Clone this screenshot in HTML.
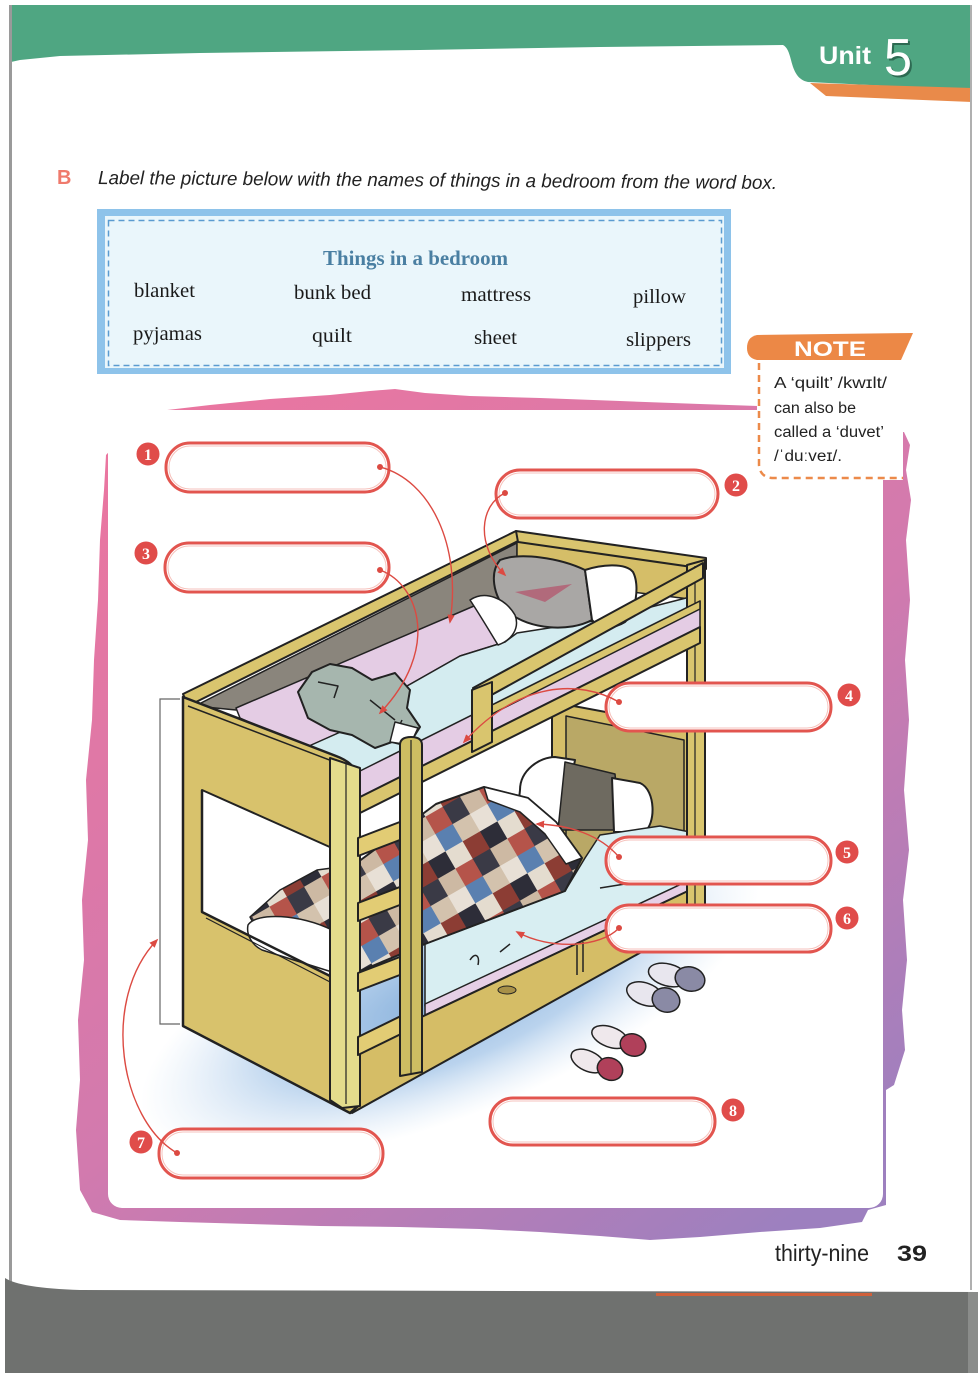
<!DOCTYPE html>
<html><head><meta charset="utf-8">
<style>
html,body{margin:0;padding:0;background:#fff;}
svg{display:block;}
</style></head>
<body>
<svg width="978" height="1381" viewBox="0 0 978 1381" xmlns="http://www.w3.org/2000/svg">
<defs>
 <linearGradient id="frameG" gradientUnits="userSpaceOnUse" x1="150" y1="420" x2="760" y2="1240">
  <stop offset="0" stop-color="#ea76a0"/>
  <stop offset="0.55" stop-color="#d27aae"/>
  <stop offset="1" stop-color="#9d80bf"/>
 </linearGradient>
 <radialGradient id="shadowG">
  <stop offset="0" stop-color="#7fabd9" stop-opacity="0.95"/>
  <stop offset="0.55" stop-color="#9cc0e6" stop-opacity="0.7"/>
  <stop offset="1" stop-color="#c8ddf2" stop-opacity="0"/>
 </radialGradient>
 <pattern id="patch" width="60" height="60" patternUnits="userSpaceOnUse" patternTransform="rotate(-30)">
  <rect x="0" y="0" width="20" height="20" fill="#2d2d38"/>
  <rect x="20" y="0" width="20" height="20" fill="#e4dccf"/>
  <rect x="40" y="0" width="20" height="20" fill="#8c3d34"/>
  <rect x="0" y="20" width="20" height="20" fill="#cdb9a3"/>
  <rect x="20" y="20" width="20" height="20" fill="#b5544a"/>
  <rect x="40" y="20" width="20" height="20" fill="#3a3a46"/>
  <rect x="0" y="40" width="20" height="20" fill="#e8e0d6"/>
  <rect x="20" y="40" width="20" height="20" fill="#5a80b0"/>
  <rect x="40" y="40" width="20" height="20" fill="#d3c2ad"/>
 </pattern>
 <marker id="ah" viewBox="0 0 10 10" refX="8" refY="5" markerWidth="9" markerHeight="9" markerUnits="userSpaceOnUse" orient="auto"><path d="M0,1 L10,5 L0,9 Z" fill="#dc4a42"/></marker>
</defs>

<rect x="0" y="0" width="978" height="1381" fill="#fff"/>

<!-- header -->
<path d="M11,5 L972,5 L972,90 L808,82 C798,80 794,72 791,60 C789,52 787,47 783,45 L600,47 L420,50 L200,53 L60,56 L20,60 L11,62 Z" fill="#4fa682"/>
<path d="M810,83 L972,88 L972,102 L826,96 Z" fill="#e98a4a"/>
<rect x="9" y="5" width="3" height="1285" fill="#9a9a9a"/>
<rect x="970" y="5" width="2" height="1285" fill="#b0b0b0"/>
<text x="819" y="64" font-family="Liberation Sans, sans-serif" font-weight="bold" font-size="25" fill="#fff" textLength="52" lengthAdjust="spacingAndGlyphs">Unit</text>
<text x="886" y="77" font-family="Liberation Sans, sans-serif" font-size="52" fill="#2d6a52" textLength="28" lengthAdjust="spacingAndGlyphs">5</text>
<text x="884" y="75" font-family="Liberation Sans, sans-serif" font-size="52" fill="#fff" textLength="28" lengthAdjust="spacingAndGlyphs">5</text>

<!-- instruction -->
<text x="57" y="184" font-family="Liberation Sans, sans-serif" font-weight="bold" font-size="20" fill="#ef7a6c">B</text>
<text x="98" y="184" transform="rotate(0.42 98 184)" font-family="Liberation Sans, sans-serif" font-style="italic" font-size="19" fill="#222" textLength="679" lengthAdjust="spacingAndGlyphs">Label the picture below with the names of  things in a bedroom from the word box.</text>

<!-- word box -->
<rect x="97" y="209" width="634" height="165" fill="#8ec3ea"/>
<rect x="105" y="216" width="619" height="152" fill="#eaf6fb"/>
<rect x="108.5" y="220.5" width="613" height="145" fill="none" stroke="#5b9bd0" stroke-width="1.5" stroke-dasharray="6 4"/>
<text x="323" y="265" font-family="Liberation Serif, serif" font-weight="bold" font-size="21" fill="#4a7fa2" textLength="185" lengthAdjust="spacingAndGlyphs">Things in a bedroom</text>
<g font-family="Liberation Serif, serif" font-size="20" fill="#1a1a1a">
 <text x="134" y="297" textLength="61" lengthAdjust="spacingAndGlyphs">blanket</text>
 <text x="294" y="299" textLength="77" lengthAdjust="spacingAndGlyphs">bunk bed</text>
 <text x="461" y="301" textLength="70" lengthAdjust="spacingAndGlyphs">mattress</text>
 <text x="633" y="303" textLength="53" lengthAdjust="spacingAndGlyphs">pillow</text>
 <text x="133" y="340" textLength="69" lengthAdjust="spacingAndGlyphs">pyjamas</text>
 <text x="312" y="342" textLength="40" lengthAdjust="spacingAndGlyphs">quilt</text>
 <text x="474" y="344" textLength="43" lengthAdjust="spacingAndGlyphs">sheet</text>
 <text x="626" y="346" textLength="65" lengthAdjust="spacingAndGlyphs">slippers</text>
</g>

<!-- picture frame -->
<polygon fill="url(#frameG)" points="150,412 210,405 270,399 330,395 370,391 395,389 425,393 470,396 540,398 620,401 700,404 758,406 760,420 886,420 886,433 904,432 910,445 906,470 911,500 906,540 910,600 905,660 909,720 904,790 909,850 903,900 907,960 902,1010 905,1050 894,1085 886,1090 886,1205 868,1210 862,1222 820,1228 760,1232 700,1237 650,1240 600,1236 540,1232 480,1229 400,1227 320,1226 250,1224 180,1222 120,1220 92,1212 80,1190 76,1130 80,1080 78,1020 84,960 82,900 88,840 86,780 92,720 94,660 98,600 100,540 104,490 106,455 120,440 150,430"/>
<rect x="108" y="410" width="775" height="798" rx="14" fill="#fff"/>

<!-- note -->
<rect x="757" y="360" width="146" height="120" fill="#fff"/>
<path d="M757,335 L913,333 L901,360 L757,360 Q747,358 747,348 Q747,337 757,335 Z" fill="#ec8846"/>
<text x="794" y="356" font-family="Liberation Sans, sans-serif" font-weight="bold" font-size="21" fill="#fff" textLength="72" lengthAdjust="spacingAndGlyphs">NOTE</text>
<path d="M759,363 L759,465 Q760,477 772,478 L903,478" fill="none" stroke="#ec8a4a" stroke-width="2.5" stroke-dasharray="7 5"/>
<g font-family="Liberation Sans, sans-serif" font-size="15.5" fill="#222">
 <text x="774" y="388" textLength="113" lengthAdjust="spacingAndGlyphs">A ‘quilt’ /kwɪlt/</text>
 <text x="774" y="413" textLength="82" lengthAdjust="spacingAndGlyphs">can also be</text>
 <text x="774" y="437" textLength="110" lengthAdjust="spacingAndGlyphs">called a ‘duvet’</text>
 <text x="774" y="461" textLength="68" lengthAdjust="spacingAndGlyphs">/ˈduːveɪ/.</text>
</g>

<!-- floor shadow -->
<ellipse cx="450" cy="995" rx="330" ry="120" transform="rotate(-22 450 995)" fill="url(#shadowG)"/>

<!-- bracket -->
<path d="M180,699 L160,699 L160,1024 L180,1024" fill="none" stroke="#666" stroke-width="1.2"/>

<g stroke="#222" stroke-linejoin="round">
 <!-- far end lower panel -->
 <polygon points="552,702 692,728 692,905 552,880" fill="#d5be68" stroke-width="2"/>
 <polygon points="566,716 684,740 684,900 566,876" fill="#b9a866" stroke-width="1.5"/>
 <!-- bottom pillow -->
 <path d="M520,790 C520,770 540,757 555,757 L575,760 L562,830 L530,830 C520,820 518,805 520,790 Z" fill="#fff" stroke-width="2"/>
 <polygon points="565,762 615,774 620,830 558,830" fill="#6e6a60" stroke-width="1.5"/>
 <path d="M612,778 L640,783 C656,790 656,825 644,832 L614,832 Z" fill="#fff" stroke-width="2"/>
 <!-- bottom sheet -->
 <polygon points="425,944 565,891 585,858 600,835 660,826 690,832 690,880 425,1006" fill="#d8eef2" stroke-width="1.5"/>
 <path d="M600,888 L625,884 M470,960 C475,952 480,955 478,965 M500,952 L510,944" fill="none" stroke-width="1.5"/>
 <!-- bottom quilt -->
 <polygon points="358,862 436,804 484,787 528,798 556,822 582,858 565,891 425,944 358,972" fill="url(#patch)" stroke-width="2"/>
 <path d="M484,787 L528,798 L556,822 L582,858 L566,864 L545,834 L520,812 L488,800 Z" fill="#fff" stroke-width="1.5"/>
 <!-- drawer -->
 <polygon points="425,1004 690,880 690,890 425,1015" fill="#e6cfe6" stroke-width="1.5"/>
 <polygon points="358,1047 690,890 690,925 352,1113" fill="#d5bd66" stroke-width="2"/>
 <path d="M577,945 L577,975 M583,942 L583,972" fill="none" stroke-width="1.5"/>
 <ellipse cx="507" cy="990" rx="9" ry="4" fill="#a89048" stroke-width="1"/>

 <!-- top bunk interior -->
 <polygon points="195,706 517,543 517,605 488,600 236,710" fill="#8a857c" stroke-width="1.5"/>
 <polygon points="517,540 700,568 698,600 517,578" fill="#d5be68" stroke-width="1.5"/>
 <polygon points="236,708 488,600 500,600 515,628 505,642 460,656 400,690 345,730 305,748 262,728 240,718" fill="#e4cce4" stroke-width="1.5"/>
 <polygon points="300,750 345,730 400,690 460,656 505,642 517,633 600,620 690,597 700,600 700,601 362,771 340,766" fill="#d4ecf0" stroke-width="1.5"/>
 <path d="M500,560 C520,552 560,558 585,570 L592,620 C570,632 530,630 508,612 C492,595 490,572 500,560 Z" fill="#a9a7a5" stroke-width="2"/>
 <path d="M515,592 L572,584 L545,602 Z" fill="#b5506a" stroke="none" opacity="0.7"/>
 <path d="M585,570 C600,565 625,562 633,572 C640,585 636,612 625,622 C612,630 598,628 592,620 Z" fill="#fff" stroke-width="2"/>
 <path d="M470,600 C485,590 505,598 515,615 C520,628 512,640 498,645 C490,632 480,615 470,600 Z" fill="#fff" stroke-width="1.5"/>
 <!-- pyjamas -->
 <polygon points="298,692 312,672 330,664 352,668 372,680 395,673 410,690 407,708 420,727 408,746 392,742 375,748 352,735 330,730 308,718" fill="#a6b6ae" stroke-width="2"/>
 <path d="M318,682 L338,686 L334,698 M370,700 L395,720 M392,742 L402,720" fill="none" stroke-width="1.5"/>
 <polygon points="395,722 418,728 410,745 390,742" fill="#fff" stroke-width="1.5"/>

 <!-- rails -->
 <polygon points="183,694 516,531 520,540 188,706" fill="#d9c56e" stroke-width="2"/>
 <polygon points="516,531 706,558 706,569 518,542" fill="#d9c56e" stroke-width="2"/>
 <polygon points="687,565 705,560 705,905 687,905" fill="#d9c56e" stroke-width="2"/>
 <path d="M695,566 L695,905" stroke-width="1.2"/>

 <!-- top bunk front -->
 <polygon points="358,772 700,601 700,627 358,798" fill="#e4cce4" stroke-width="1.5"/>
 <polygon points="358,798 700,627 700,643 358,814" fill="#d9c56e" stroke-width="2"/>
 <polygon points="490,706 700,601 700,609 490,715" fill="#d9c56e" stroke-width="1.5"/>
 <polygon points="473,688 703,563 703,578 477,703" fill="#d9c56e" stroke-width="2"/>
 <polygon points="472,690 492,682 492,742 472,752" fill="#d9c56e" stroke-width="2"/>

 <!-- near end panel -->
 <path d="M183,697 L336,756 Q352,762 356,772 L358,1106 L350,1113 L183,1026 Z" fill="#d8c26c" stroke-width="2.5"/>
 <path d="M188,706 L340,764" fill="none" stroke-width="1.5"/>
 <polygon points="202,790 332,848 332,977 202,912" fill="#fff" stroke-width="2"/>
 <polygon points="250,917 280,890 317,870 332,868 332,935 300,928 256,928" fill="url(#patch)" stroke-width="1.5"/>
 <path d="M248,925 C256,912 300,914 332,930 L332,972 L262,950 C252,945 246,935 248,925 Z" fill="#fff" stroke-width="1.5"/>
 <path d="M202,790 L202,912 L332,977" fill="none" stroke-width="2.5"/>
 <path d="M206,918 L332,983" fill="none" stroke-width="1.2"/>
 <!-- near right post -->
 <polygon points="330,758 360,768 360,1106 342,1108 330,1100" fill="#e4dc8c" stroke-width="2"/>
 <path d="M346,764 L346,1104" fill="none" stroke-width="1.2"/>
 <!-- ladder rungs -->
 <polygon points="358,838 405,820 405,838 358,856" fill="#e2cc74" stroke-width="2"/>
 <polygon points="358,903 405,885 405,903 358,921" fill="#e2cc74" stroke-width="2"/>
 <polygon points="358,973 405,955 405,973 358,991" fill="#e2cc74" stroke-width="2"/>
 <polygon points="358,1037 405,1014 405,1032 358,1055" fill="#e2cc74" stroke-width="2"/>
 <!-- ladder right rail -->
 <path d="M400,745 Q400,737 411,737 Q422,737 422,745 L422,1072 L400,1076 Z" fill="#cdbd62" stroke-width="2"/>
 <path d="M411,740 L411,1074" fill="none" stroke-width="1.2"/>
 <!-- slippers -->
 <ellipse cx="668" cy="975" rx="20" ry="11" transform="rotate(15 668 975)" fill="#e8e6ee" stroke-width="1.5"/>
 <ellipse cx="690" cy="979" rx="15" ry="12" transform="rotate(15 690 979)" fill="#8a8aa5" stroke-width="1.5"/>
 <ellipse cx="645" cy="994" rx="19" ry="11" transform="rotate(20 645 994)" fill="#e8e6ee" stroke-width="1.5"/>
 <ellipse cx="666" cy="1000" rx="14" ry="12" transform="rotate(20 666 1000)" fill="#8a8aa5" stroke-width="1.5"/>
 <ellipse cx="610" cy="1037" rx="19" ry="10" transform="rotate(20 610 1037)" fill="#efe8ec" stroke-width="1.5"/>
 <ellipse cx="633" cy="1045" rx="13" ry="11" transform="rotate(20 633 1045)" fill="#b0405a" stroke-width="1.5"/>
 <ellipse cx="588" cy="1061" rx="18" ry="10" transform="rotate(25 588 1061)" fill="#efe8ec" stroke-width="1.5"/>
 <ellipse cx="610" cy="1069" rx="13" ry="11" transform="rotate(25 610 1069)" fill="#b0405a" stroke-width="1.5"/>
</g>

<!-- labels -->
<g fill="#fff" stroke="#e2554f" stroke-width="3">
 <rect x="166" y="443" width="223" height="49" rx="24"/>
 <rect x="496" y="470" width="222" height="48" rx="24"/>
 <rect x="165" y="543" width="224" height="49" rx="24"/>
 <rect x="606" y="683" width="225" height="48" rx="24"/>
 <rect x="606" y="837" width="225" height="47" rx="23"/>
 <rect x="606" y="905" width="225" height="47" rx="23"/>
 <rect x="159" y="1129" width="224" height="49" rx="24"/>
 <rect x="490" y="1098" width="225" height="47" rx="23"/>
</g>
<g fill="none" stroke="#f6c2bc" stroke-width="1">
 <rect x="169" y="446" width="217" height="43" rx="21"/>
 <rect x="499" y="473" width="216" height="42" rx="21"/>
 <rect x="168" y="546" width="218" height="43" rx="21"/>
 <rect x="609" y="686" width="219" height="42" rx="21"/>
 <rect x="609" y="840" width="219" height="41" rx="20"/>
 <rect x="609" y="908" width="219" height="41" rx="20"/>
 <rect x="162" y="1132" width="218" height="43" rx="21"/>
 <rect x="493" y="1101" width="219" height="41" rx="20"/>
</g>
<g fill="#e04c4a" stroke="#fff" stroke-width="1">
 <circle cx="148" cy="454" r="12"/>
 <circle cx="736" cy="485" r="12"/>
 <circle cx="146" cy="553" r="12"/>
 <circle cx="849" cy="695" r="12"/>
 <circle cx="847" cy="852" r="12"/>
 <circle cx="847" cy="918" r="12"/>
 <circle cx="141" cy="1142" r="12"/>
 <circle cx="733" cy="1110" r="12"/>
</g>
<g font-family="Liberation Serif, serif" font-weight="bold" font-size="16" fill="#fff" text-anchor="middle">
 <text x="148" y="460">1</text>
 <text x="736" y="491">2</text>
 <text x="146" y="559">3</text>
 <text x="849" y="701">4</text>
 <text x="847" y="858">5</text>
 <text x="847" y="924">6</text>
 <text x="141" y="1148">7</text>
 <text x="733" y="1116">8</text>
</g>

<!-- connectors -->
<g fill="none" stroke="#dc4a42" stroke-width="1.4" marker-end="url(#ah)">
 <path d="M380,467 C430,480 462,545 450,622"/>
 <path d="M505,493 C480,505 475,545 505,575"/>
 <path d="M380,570 C420,585 440,650 380,713"/>
 <path d="M619,702 C580,680 520,680 464,742"/>
 <path d="M619,857 C600,835 570,825 537,824"/>
 <path d="M619,928 C600,948 550,950 517,932"/>
 <path d="M177,1153 C120,1120 100,1000 157,940"/>
</g>
<g fill="#dc4a42">
 <circle cx="380" cy="467" r="3"/>
 <circle cx="505" cy="493" r="3"/>
 <circle cx="380" cy="570" r="3"/>
 <circle cx="619" cy="702" r="3"/>
 <circle cx="619" cy="857" r="3"/>
 <circle cx="619" cy="928" r="3"/>
 <circle cx="177" cy="1153" r="3"/>
</g>

<!-- page number -->
<text x="775" y="1261" font-family="Liberation Sans, sans-serif" font-size="23" fill="#222" textLength="94" lengthAdjust="spacingAndGlyphs">thirty-nine</text>
<text x="897" y="1261" font-family="Liberation Sans, sans-serif" font-weight="bold" font-size="22" fill="#222" textLength="30" lengthAdjust="spacingAndGlyphs">39</text>

<!-- bottom gray -->
<path d="M5,1278 Q20,1288 80,1290 L978,1292 L978,1373 L5,1373 Z" fill="#6f716f"/>
<rect x="656" y="1293" width="216" height="3" fill="#d0603a"/>
<rect x="968" y="1292" width="10" height="81" fill="#8a8c8a"/>
</svg>
</body></html>
